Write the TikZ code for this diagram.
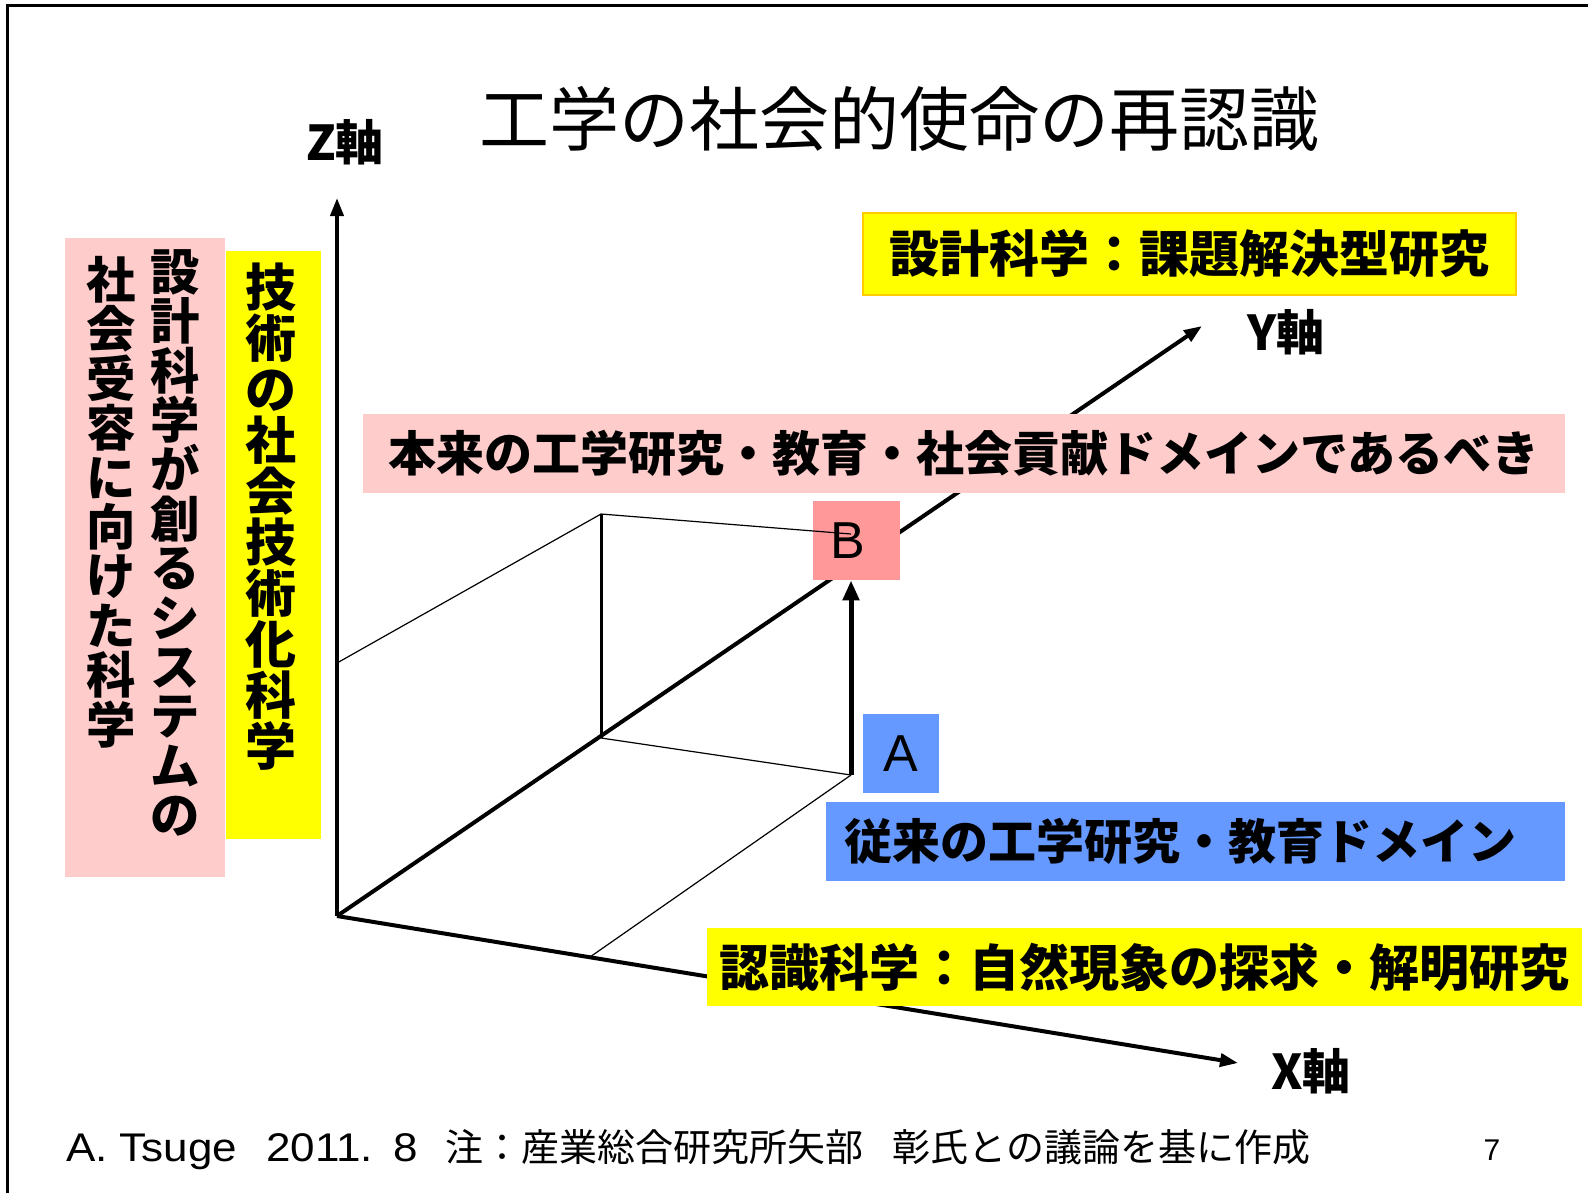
\documentclass[tikz,border=0pt]{standalone}
\usepackage{fontspec}
\setmainfont{Noto Sans CJK JP}
\newfontfamily\lat{Liberation Sans}
\newfontfamily\latw{Liberation Sans}[FakeStretch=1.1]
\usetikzlibrary{arrows.meta}
\definecolor{yel}{HTML}{FFFF00}
\definecolor{yelborder}{HTML}{FFCC00}
\definecolor{pinkl}{HTML}{FFCCCC}
\definecolor{pinkb}{HTML}{FF9999}
\definecolor{bluea}{HTML}{6699FF}
\tikzset{
  axis/.style={line width=2pt,-{Triangle[length=9pt,width=6.5pt]}},
  thinline/.style={line width=0.6pt},
  midline/.style={line width=1.5pt},
  hbox/.style={inner sep=0pt, font=\bfseries\fontsize{24}{24}\selectfont},
  vtext/.style={inner sep=0pt, align=center, font=\bfseries\fontsize{24.7}{24.7}\selectfont},
  axlabel/.style={inner sep=0pt, font=\bfseries\fontsize{24}{24}\selectfont},
  letter/.style={inner sep=0pt, font=\lat\fontsize{26}{26}\selectfont},
}
\begin{document}
\begin{tikzpicture}[x=0.5pt,y=-0.5pt]
\useasboundingbox (0,0) rectangle (1588,1193);
% frame
\draw[line width=1.5pt] (7,1193) -- (7,6) -- (1588,6);
% title
\node[inner sep=0pt, font=\fontsize{35}{35}\selectfont] (title) at (899,119) {工学の社会的使命の再認識};
% axes
\coordinate (O) at (337,916);
\coordinate (Zt) at (337,198);
\coordinate (Yt) at (1202,326);
\coordinate (Xt) at (1238,1063);
\draw[axis] (O) -- (Zt);
\draw[axis] (O) -- (Yt);
\draw[axis] (O) -- (Xt);
\node[axlabel] (zl) at (345,142) {Z軸};
\node[axlabel] (yl) at (1286,332) {Y軸};
\node[axlabel] (xl) at (1311,1071) {X軸};
% box construction
\coordinate (Zm) at (337,663);
\coordinate (Pt) at (601,514);
\coordinate (Py) at (601,738);
\coordinate (Pa) at (851,775);
\coordinate (Px) at (590,957);
\coordinate (Pb) at (851,534);
\draw[thinline] (Zm) -- (Pt);
\draw[midline] (Pt) -- (Py);
\draw[thinline] (Py) -- (Pa);
\draw[thinline] (Pa) -- (Px);
% left vertical boxes
\node[fill=pinkl, inner sep=0pt, minimum width=80pt, minimum height=319.5pt] (lbox) at (145,557.5) {};
\node[vtext] (lcol1) at (175,543) {設\\計\\科\\学\\が\\創\\る\\シ\\ス\\テ\\ム\\の};
\node[vtext] (lcol2) at (111,502) {社\\会\\受\\容\\に\\向\\け\\た\\科\\学};
\node[fill=yel, inner sep=0pt, minimum width=47.5pt, minimum height=294pt] (ybox) at (273.5,545) {};
\node[vtext, font=\bfseries\fontsize{25.5}{25.5}\selectfont] (ycol) at (271,517) {技\\術\\の\\社\\会\\技\\術\\化\\科\\学};
% horizontal boxes
\node[hbox, fill=yel, draw=yelborder, line width=0.6pt, minimum width=326.5pt, minimum height=41pt, font=\bfseries\fontsize{25}{25}\selectfont] (design) at (1189.5,254) {設計科学：課題解決型研究};
\node[hbox, fill=pinkl, minimum width=601pt, minimum height=39.5pt] (ideal) at (964,453.5) {本来の工学研究・教育・社会貢献ドメインであるべき};
\node[hbox, fill=bluea, inner xsep=9pt, text width=351.5pt, align=left, minimum height=39.5pt] (conv) at (1195.5,841.5) {従来の工学研究・教育ドメイン};
\node[hbox, fill=yel, minimum width=437.5pt, minimum height=39pt, font=\bfseries\fontsize{25}{25}\selectfont] (cogn) at (1144.5,967) {認識科学：自然現象の探求・解明研究};
% A and B
\node[letter, fill=bluea, minimum width=38pt, minimum height=39.5pt] (A) at (901,753.5) {A};
\node[letter, fill=pinkb, inner xsep=8.5pt, text width=26.5pt, align=left, minimum height=39.5pt] (B) at (856.5,540.5) {B};
\draw[thinline] (Pt) -- (Pb);
\draw[line width=2.5pt,-{Triangle[length=10pt,width=8pt]}] (Pa) -- (B.south -| Pa);
% footer
\node[anchor=west, inner sep=0pt, font=\fontsize{19}{19}\selectfont] (foot) at (66,1150) {{\latw\fontsize{20}{20}\selectfont A.\hspace{6pt}Tsuge\hspace{14.5pt}2011.\hspace{10pt}8}\hspace{14pt}注：産業総合研究所矢部\hspace{14.5pt}彰氏との議論を基に作成};
\node[inner sep=0pt, font=\lat\fontsize{15}{15}\selectfont] (page) at (1492,1150) {7};
\end{tikzpicture}
\end{document}
